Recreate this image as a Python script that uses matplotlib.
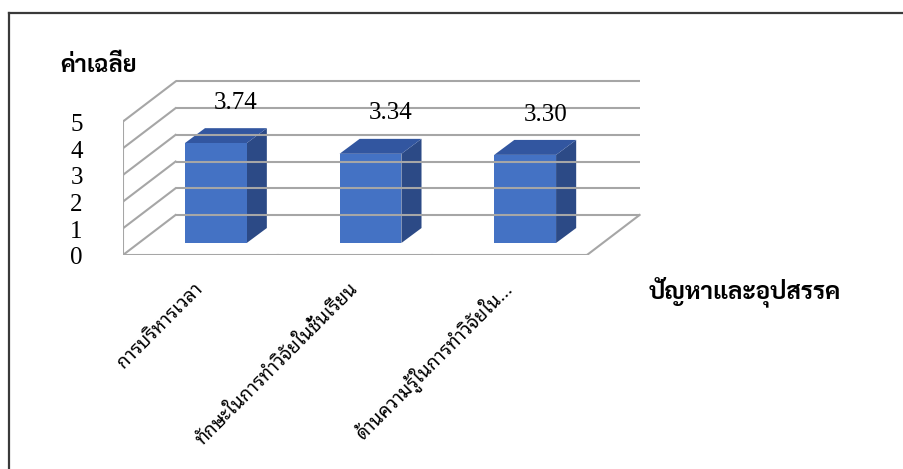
import matplotlib
matplotlib.use("Agg")
import matplotlib.pyplot as plt
from matplotlib import font_manager, ft2font
from matplotlib.patches import Polygon

categories = ["การบริหารเวลา", "ทักษะในการทำวิจัยในชั้นเรียน", "ด้านความรู้ในการทำวิจัยใน..."]
values = [3.74, 3.34, 3.30]
value_labels = ["3.74", "3.34", "3.30"]
y_ticks = [0, 1, 2, 3, 4, 5]
y_title = "ค่าเฉลี่ย"
x_title = "ปัญหาและอุปสรรค"


def thai_families(bold=False):
    have = set()
    for f in font_manager.fontManager.ttflist:
        if bold and f.weight < 700:
            continue
        try:
            if ft2font.FT2Font(f.fname).get_char_index(0x0E01):
                have.add(f.name)
        except Exception:
            pass
    return have


def pick(preferred, have):
    for name in preferred:
        if name in have:
            return name
    return sorted(have)[0]


thai = pick(["Noto Sans Thai Looped", "Noto Sans Thai", "Sarabun", "Loma"], thai_families())
thai_bold = pick(["Sarabun", "Noto Sans Thai Looped", "Noto Sans Thai", "Loma"], thai_families(bold=True))
serif = "Liberation Serif"

# fake 3d: offset of the back wall, and of the bars inside the floor depth
depth = (0.34, 1.5)
bar_front = (0.1, 0.45)
bar_depth = (0.13, 0.56)
bar_w = 0.4
grid_c = "#a6a6a6"
front_c, top_c, side_c = "#4472c4", "#3256a0", "#2c4a86"

fig = plt.figure(figsize=(9.04, 4.69), dpi=100)
ax = fig.add_axes([123 / 904, 214 / 469, 3.4 * 154.67 / 904, 6.6 * 26.7 / 469])
ax.set_xlim(0, 3.4)
ax.set_ylim(0, 6.6)
ax.axis("off")

n = len(categories)
dx, dy = depth
# back wall gridlines + side wall diagonals
for v in y_ticks:
    ax.plot([dx, n + dx], [v + dy, v + dy], color=grid_c, lw=1.5, solid_capstyle="butt")
    ax.plot([0, dx], [v, v + dy], color=grid_c, lw=1.5)
    ax.plot([-0.085, 0], [v, v], color=grid_c, lw=1.5)
    ax.text(-0.26, v - 0.13, str(v), ha="right", va="center", fontsize=18, family=serif)
# front axis line and floor
ax.plot([0, 0], [0, y_ticks[-1]], color=grid_c, lw=1.5)
ax.plot([0, n, n + dx], [0, 0, dy], color=grid_c, lw=1.5)
for i in range(n + 1):
    ax.plot([i, i], [0, -0.2], color=grid_c, lw=1.5)

fdx, fdy = bar_front
bdx, bdy = bar_depth
for i, v in enumerate(values):
    x0 = i + 0.5 - bar_w / 2 + fdx
    x1 = x0 + bar_w
    y0 = fdy
    y1 = v + fdy
    ax.add_patch(Polygon([(x1, y0), (x1 + bdx, y0 + bdy), (x1 + bdx, y1 + bdy), (x1, y1)],
                         closed=True, fc=side_c, ec="none"))
    ax.add_patch(Polygon([(x0, y1), (x1, y1), (x1 + bdx, y1 + bdy), (x0 + bdx, y1 + bdy)],
                         closed=True, fc=top_c, ec="none"))
    ax.add_patch(Polygon([(x0, y0), (x1, y0), (x1, y1), (x0, y1)],
                         closed=True, fc=front_c, ec="none"))
    ax.text(i + 0.5 + fdx + bdx, v + fdy + bdy + 0.95, value_labels[i],
            ha="center", va="center", fontsize=18, family=serif)

for i, lab in enumerate(categories):
    ax.text(i + 0.5, -1.15, lab, rotation=45, rotation_mode="anchor",
            ha="right", va="center", fontsize=13.5, family=thai)

fig.text(99 / 904, 1 - 66 / 469, y_title, ha="center", va="center",
         fontsize=17, fontweight="bold", family=thai_bold)
fig.text(745 / 904, 1 - 292 / 469, x_title, ha="center", va="center",
         fontsize=17.5, fontweight="bold", family=thai_bold)

# chart frame
fig.add_artist(plt.Line2D([8.5 / 904, 8.5 / 904], [0, 1 - 13 / 469], color="#3a3a3a", lw=1.6))
fig.add_artist(plt.Line2D([8.5 / 904, 1], [1 - 13 / 469, 1 - 13 / 469], color="#3a3a3a", lw=1.6))

fig.savefig("out.png")
